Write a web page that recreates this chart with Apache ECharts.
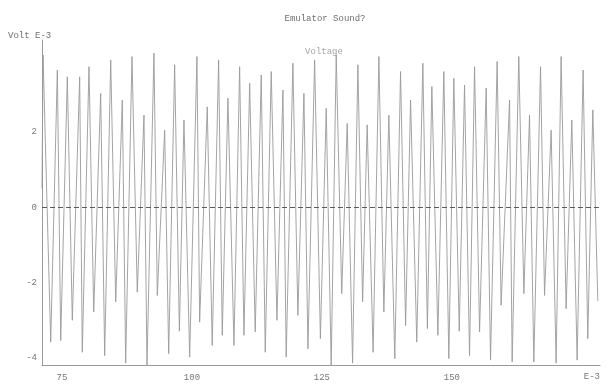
<!DOCTYPE html>
<html>
<head>
<meta charset="utf-8">
<script src="https://cdn.jsdelivr.net/npm/echarts@6/dist/echarts.min.js"></script>
<style>
  html, body { margin: 0; padding: 0; background: #fff; }
</style>
</head>
<body>
<div id="soundChart" style="width:609px;height:385px"></div>
<script>
// time in E-3 s, turning points of the trace
var times = [
  71.15, 71.35, 72.83, 74.10, 74.75, 76.02, 76.98, 78.40, 78.90, 80.19,
  81.10, 82.44, 83.21, 84.37, 85.33, 86.60, 87.25, 88.46, 89.48, 90.77,
  91.35, 92.69, 93.33, 94.75, 95.52, 96.67, 97.58, 98.46, 99.56, 100.96,
  101.48, 102.94, 103.90, 105.13, 105.83, 106.92, 108.08, 109.17, 110.00, 111.10,
  112.17, 113.33, 114.10, 115.25, 116.35, 117.50, 118.13, 119.42, 120.38, 121.54,
  122.31, 123.60, 124.71, 125.83, 126.79, 127.75, 128.81, 129.87, 130.90, 131.92,
  132.83, 133.71, 134.85, 135.96, 136.92, 137.88, 139.02, 140.13, 141.10, 142.06,
  143.25, 144.42, 145.29, 146.15, 147.31, 148.46, 149.42, 150.38, 151.42, 152.44,
  153.40, 154.37, 155.33, 156.60, 157.44, 158.71, 159.48, 161.10, 161.60, 162.88,
  163.85, 164.94, 165.77, 167.06, 167.83, 169.10, 170.06, 171.02, 171.98, 173.08,
  174.10, 175.25, 176.15, 177.12, 178.08
];
// volt E-3
var volts = [
  0.5, 4.05, -3.59, 3.65, -3.55, 3.47, -3.01, 3.47, -3.86, 3.74,
  -2.79, 3.03, -3.95, 3.92, -2.52, 2.85, -4.15, 4.01, -2.26, 2.45,
  -4.2, 4.10, -2.35, 2.05, -3.90, 3.79, -3.3, 2.32, -3.99, 4.01,
  -3.06, 2.67, -3.68, 3.92, -3.41, 2.90, -3.68, 3.74, -3.41, 3.30,
  -3.32, 3.52, -3.86, 3.61, -3.01, 3.12, -3.99, 3.83, -2.88, 3.03,
  -3.77, 3.92, -3.5, 2.63, -4.2, 4.05, -2.3, 2.23, -4.15, 3.79,
  -2.52, 2.19, -3.86, 4.01, -2.79, 2.45, -4.03, 3.61, -3.15, 2.85,
  -3.59, 3.83, -3.23, 3.21, -3.41, 3.61, -4.03, 3.43, -3.3, 3.25,
  -3.95, 3.74, -3.32, 3.17, -4.07, 3.88, -2.61, 2.85, -4.12, 4.01,
  -2.30, 2.45, -4.12, 3.74, -2.35, 2.05, -4.15, 4.01, -2.70, 2.32,
  -4.07, 3.65, -3.50, 2.59, -2.5
];
var xTicks = [75, 100, 125, 150];
var yTicks = [-4, -2, 0, 2];

var myChart = echarts.init(document.getElementById('soundChart'));

var points = [];
times.forEach(function (t, i) {
  points.push([t, volts[i]]);
});

var font = 'Liberation Mono';

var option = {
  backgroundColor: '#fff',
  animation: false,
  title: [
    {
      text: 'Emulator Sound?',
      left: 320,
      top: 9,
      textAlign: 'center',
      textStyle: { fontFamily: font, fontSize: 9, fontWeight: 'normal', color: '#6f6f6f' }
    },
    {
      text: 'Voltage',
      left: 319,
      top: 42,
      textAlign: 'center',
      textStyle: { fontFamily: font, fontSize: 9, fontWeight: 'normal', color: '#a5a5a5' }
    }
  ],
  grid: { left: 42, right: 9, top: 40, bottom: 20 },
  xAxis: {
    type: 'value',
    min: 71.15,
    max: 178.5,
    name: 'E-3',
    nameLocation: 'end',
    nameGap: 0,
    nameTextStyle: {
      fontFamily: font, fontSize: 9, color: '#777',
      align: 'right', verticalAlign: 'top', padding: [7, 0, 0, 0]
    },
    axisLine: { onZero: false, lineStyle: { color: '#9a9a9a', width: 1 } },
    axisTick: { show: false },
    splitLine: { show: false },
    axisLabel: {
      customValues: xTicks,
      margin: 8,
      fontFamily: font,
      fontSize: 9,
      color: '#777'
    }
  },
  yAxis: {
    type: 'value',
    min: -4.2,
    max: 4.45,
    name: 'Volt E-3',
    nameLocation: 'end',
    nameGap: 0,
    nameTextStyle: {
      fontFamily: font, fontSize: 9, color: '#6f6f6f',
      align: 'left', verticalAlign: 'bottom', padding: [0, 0, 0, -34]
    },
    axisLine: { show: true, onZero: false, lineStyle: { color: '#9a9a9a', width: 1 } },
    axisTick: { show: false },
    splitLine: { show: false },
    axisLabel: {
      customValues: yTicks,
      margin: 5,
      fontFamily: font,
      fontSize: 9,
      color: '#777'
    }
  },
  series: [
    {
      name: 'Voltage',
      type: 'line',
      data: points,
      showSymbol: false,
      silent: true,
      lineStyle: { color: '#9a9a9a', width: 0.9 },
      markLine: {
        silent: true,
        symbol: 'none',
        label: { show: false },
        lineStyle: { color: '#5a5a5a', type: [5, 3], width: 1 },
        data: [{ yAxis: 0 }]
      }
    }
  ]
};

myChart.setOption(option);
</script>
</body>
</html>
